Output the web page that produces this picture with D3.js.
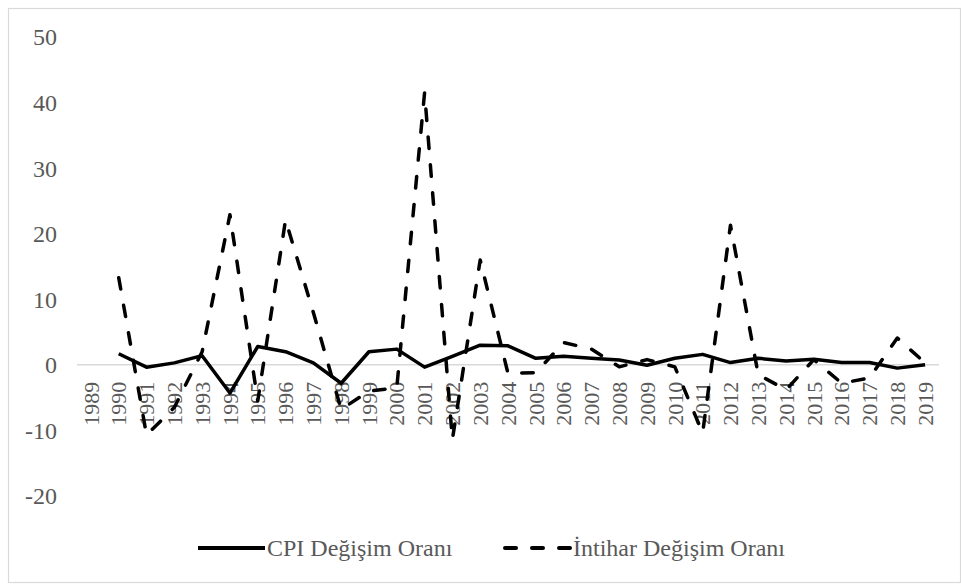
<html>
<script src="https://d3js.org/d3.v7.min.js"></script>
<style>
  body { margin: 0; background: #fff; }
  text { font-family: "Liberation Serif", "Times New Roman", serif; fill: #595959; }
</style>
<svg height="584" width="961" id="chart"></svg>
<script>

// Years on the category axis
var years = ["1989","1990","1991","1992","1993","1994","1995","1996","1997","1998","1999",
  "2000","2001","2002","2003","2004","2005","2006","2007","2008","2009",
  "2010","2011","2012","2013","2014","2015","2016","2017","2018","2019"];

// Series years (both series start in 1990)
var seriesYears = years.slice(1);

// CPI change rate
var cpiValues = [1.7, -0.35, 0.3, 1.4, -4.3, 2.8, 2.0, 0.3, -2.8, 2.0,
  2.4, -0.35, 1.3, 3.0, 2.9, 1.0, 1.3, 1.0, 0.75, -0.05,
  1.0, 1.6, 0.35, 1.0, 0.6, 0.85, 0.35, 0.35, -0.5, 0.0];

// Suicide change rate
var intiharValues = [13.3, -10.7, -6.5, 2.0, 22.9, -5.5, 22.1, 8.0, -6.8, -4.0,
  -3.5, 41.5, -11.4, 16.0, -1.3, -1.2, 3.4, 2.4, -0.3, 0.8,
  -0.3, -10.4, 21.3, -1.5, -3.8, 0.8, -2.8, -2.0, 4.1, 0.3];

// Tick labels for the value axis
var yTicks = [-20, -10, 0, 10, 20, 30, 40, 50];

var legendLabels = ["CPI Değişim Oranı", "İntihar Değişim Oranı"];

var svg = d3.select("#chart");

// outer chart border
svg.append("rect")
  .attr("x", 8.5).attr("y", 8.5)
  .attr("width", 952).attr("height", 574)
  .attr("fill", "none")
  .attr("stroke", "#d9d9d9")
  .attr("stroke-width", 1.2);

var x = d3.scaleBand()
  .domain(years)
  .range([77, 939])
  .padding(0);

var y = d3.scaleLinear()
  .domain([-20, 50])
  .range([496, 37]);

var cx = function(d) { return x(d) + x.bandwidth() / 2; };

// value axis labels
svg.append("g")
  .selectAll("text")
  .data(yTicks)
  .enter().append("text")
  .attr("x", 57)
  .attr("y", function(d) { return y(d); })
  .attr("dy", "0.35em")
  .attr("text-anchor", "end")
  .style("font-size", "24px")
  .text(function(d) { return d; });

// zero line
svg.append("line")
  .attr("x1", x.range()[0]).attr("x2", x.range()[1])
  .attr("y1", y(0)).attr("y2", y(0))
  .attr("stroke", "#d9d9d9")
  .attr("stroke-width", 1.5);

// category labels, rotated, hanging below the zero line
svg.append("g")
  .selectAll("text")
  .data(years)
  .enter().append("text")
  .attr("transform", function(d) { return "translate(" + cx(d) + "," + (y(0) + 17) + ") rotate(-90)"; })
  .attr("dy", "0.35em")
  .attr("text-anchor", "end")
  .style("font-size", "22px")
  .text(function(d) { return d; });

var line = d3.line()
  .x(function(d) { return cx(d[0]); })
  .y(function(d) { return y(d[1]); });

var cpiData = seriesYears.map(function(yr, i) { return [yr, cpiValues[i]]; });
var intiharData = seriesYears.map(function(yr, i) { return [yr, intiharValues[i]]; });

svg.append("path")
  .datum(intiharData)
  .attr("d", line)
  .attr("fill", "none")
  .attr("stroke", "#000")
  .attr("stroke-width", 3.5)
  .attr("stroke-linecap", "round")
  .attr("stroke-linejoin", "round")
  .attr("stroke-dasharray", "11.5,16.5");

svg.append("path")
  .datum(cpiData)
  .attr("d", line)
  .attr("fill", "none")
  .attr("stroke", "#000")
  .attr("stroke-width", 3.5)
  .attr("stroke-linejoin", "round");

// legend
var legendY = 548;
var legend = svg.append("g");

legend.append("line")
  .attr("x1", 198).attr("x2", 265)
  .attr("y1", legendY).attr("y2", legendY)
  .attr("stroke", "#000").attr("stroke-width", 4);

legend.append("text")
  .attr("x", 267).attr("y", legendY)
  .attr("dy", "0.35em")
  .style("font-size", "24px")
  .text(legendLabels[0]);

legend.append("line")
  .attr("x1", 505).attr("x2", 570)
  .attr("y1", legendY).attr("y2", legendY)
  .attr("stroke", "#000").attr("stroke-width", 4)
  .attr("stroke-linecap", "round")
  .attr("stroke-dasharray", "11,16");

legend.append("text")
  .attr("x", 573).attr("y", legendY)
  .attr("dy", "0.35em")
  .style("font-size", "24px")
  .text(legendLabels[1]);

</script>
</html>
